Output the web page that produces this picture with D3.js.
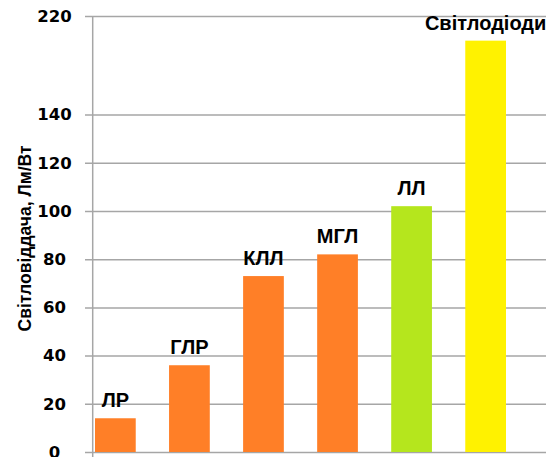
<!DOCTYPE html>
<html>
<head>
<meta charset="utf-8">
<script src="https://cdn.jsdelivr.net/npm/d3@7"></script>
<style>
  html, body { margin: 0; padding: 0; background: #fff; }
  svg { display: block; }
</style>
</head>
<body>
<div id="chart"></div>
<script>
// ---- data ----
const categories = ["ЛР", "ГЛР", "КЛЛ", "МГЛ", "ЛЛ", "Світлодіоди"];
const values = [14, 36, 73, 82, 102, 200];
const tickValues = [0, 20, 40, 60, 80, 100, 120, 140, 220];
const yAxisTitle = "Світловіддача, Лм/Вт";

// ---- styles / layout ----
const W = 546, H = 457;
const axisX = 92.7, gridLeft = 85;
const plotTop = 16, plotBottom = 452, unit = 48.2;
const barColors = { "ЛР": "#FF7F27", "ГЛР": "#FF7F27", "КЛЛ": "#FF7F27", "МГЛ": "#FF7F27", "ЛЛ": "#B5E61D", "Світлодіоди": "#FFF200" };
const gridColor = "#a6a6a6";

const svg = d3.select("#chart").append("svg")
  .attr("width", W).attr("height", H)
  .style("background", "#fff");

// broken (piecewise) value axis as in the reference
const y = d3.scaleLinear()
  .domain([0, 140, 220])
  .range([plotBottom, plotBottom - 7 * unit, plotTop]);

const x = d3.scaleBand()
  .domain(categories)
  .range([95, 506])
  .paddingInner(0.45)
  .paddingOuter(0);

// gridlines + tick labels via axis
const yAxis = d3.axisLeft(y)
  .tickValues(tickValues)
  .tickFormat(d3.format("d"))
  .tickSizeInner(-(W - gridLeft))
  .tickSizeOuter(0);

const gAxis = svg.append("g")
  .attr("transform", `translate(${gridLeft},0)`)
  .call(yAxis);
gAxis.select(".domain").remove();
gAxis.selectAll(".tick line")
  .attr("stroke", gridColor)
  .attr("stroke-width", 1.5);
gAxis.selectAll(".tick text")
  .attr("x", 54.5 - gridLeft)
  .attr("text-anchor", "middle")
  .attr("fill", "#000")
  .style("font-family", "'DejaVu Sans', sans-serif")
  .style("font-weight", "bold")
  .style("font-size", "16.5px");

// vertical axis line
svg.append("line")
  .attr("x1", axisX).attr("x2", axisX)
  .attr("y1", y(220)).attr("y2", H)
  .attr("stroke", gridColor)
  .attr("stroke-width", 1.5);

// bars
const data = categories.map((c, i) => ({ c, v: values[i] }));
svg.append("g").selectAll("rect")
  .data(data)
  .join("rect")
  .attr("x", d => x(d.c))
  .attr("width", x.bandwidth())
  .attr("y", d => y(d.v))
  .attr("height", d => y(0) - y(d.v))
  .attr("fill", d => barColors[d.c]);

// bar labels
svg.append("g").selectAll("text")
  .data(data)
  .join("text")
  .attr("x", d => x(d.c) + x.bandwidth() / 2)
  .attr("y", d => y(d.v) - 11)
  .attr("text-anchor", "middle")
  .attr("fill", "#000")
  .style("font-family", "'Liberation Sans', Arial, sans-serif")
  .style("font-weight", "bold")
  .style("font-size", "20px")
  .text(d => d.c);

// y axis title
svg.append("text")
  .attr("transform", "translate(31,238.5) rotate(-90)")
  .attr("text-anchor", "middle")
  .attr("fill", "#000")
  .style("font-family", "'Liberation Sans', Arial, sans-serif")
  .style("font-weight", "bold")
  .style("font-size", "17.5px")
  .text(yAxisTitle);
</script>
</body>
</html>
